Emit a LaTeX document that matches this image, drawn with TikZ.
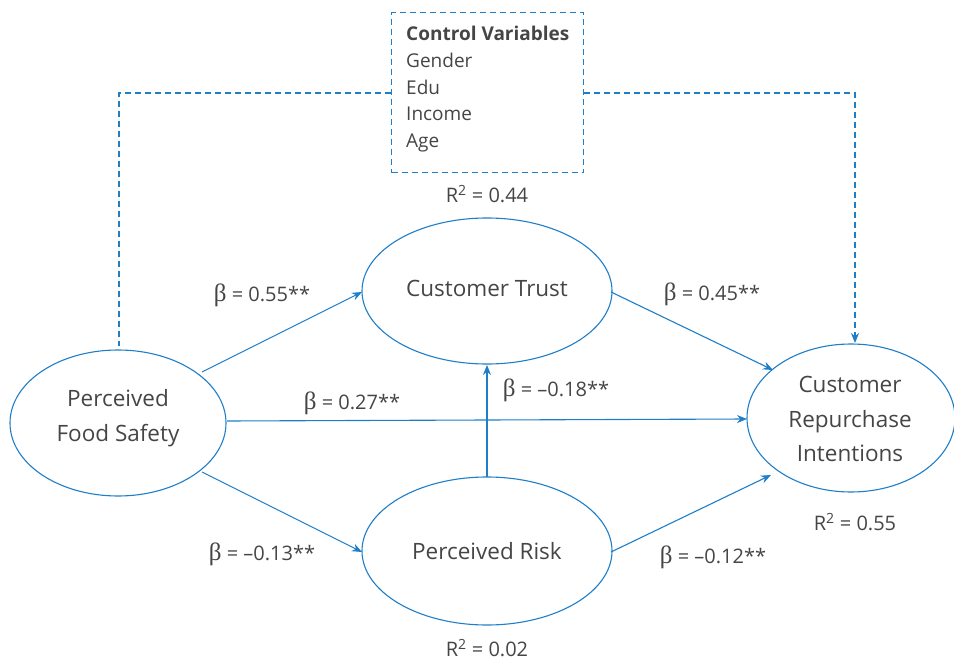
\documentclass[tikz,border=0pt]{standalone}
\usepackage{fontspec}
\setmainfont{Open Sans}
\newfontfamily\betafont{Liberation Serif}
\usetikzlibrary{arrows.meta}
\definecolor{lineblue}{HTML}{1F7EC8}
\definecolor{txt}{HTML}{454545}
\newcommand{\bt}{{\betafont\fontsize{25}{22}\selectfont β}}
\begin{document}
\begin{tikzpicture}[x=1pt,y=-1pt,
  ell/.style={draw=lineblue,line width=1.1pt},
  path/.style={draw=lineblue,line width=1.1pt,-{Stealth[length=10pt,width=8pt]}},
  ctrl/.style={draw=lineblue,line width=1.2pt,dash pattern=on 6pt off 4pt},
  lab/.style={text=txt,font=\fontsize{20}{22}\selectfont,inner sep=0pt}]
\useasboundingbox (0,0) rectangle (954,661);
% ellipses
\draw[ell] (118,423) ellipse [x radius=108,y radius=73];
\node[text=txt,font=\fontsize{22.5}{35}\selectfont,align=center] (pfs) at (118,418) {Perceived\\Food Safety};
\draw[ell] (487,291) ellipse [x radius=125,y radius=73];
\node[text=txt,font=\fontsize{22.5}{30}\selectfont] (ct) at (487,288) {Customer Trust};
\draw[ell] (487,551) ellipse [x radius=125,y radius=74];
\node[text=txt,font=\fontsize{22.5}{30}\selectfont] (pr) at (487,551) {Perceived Risk};
\draw[ell] (851,418) ellipse [x radius=104,y radius=74];
\node[text=txt,font=\fontsize{22.5}{34.5}\selectfont,align=center] (cri) at (850,419) {Customer\\Repurchase\\Intentions};
% anchor coordinates on ellipse boundaries
\coordinate (pfsA) at (202,372);
\coordinate (pfsB) at (227,421);
\coordinate (pfsC) at (202,472);
\coordinate (ctW) at (362,292);
\coordinate (ctE) at (611,292);
\coordinate (ctS) at (487,365);
\coordinate (prW) at (362,552);
\coordinate (prE) at (611,552);
\coordinate (prN) at (487,477);
\coordinate (criA) at (773,370);
\coordinate (criB) at (747,419);
\coordinate (criC) at (771,475);
\draw[path] (pfsA) -- (ctW);
\draw[path] (ctE) -- (criA);
\draw[path] (pfsB) -- (criB);
\draw[path] (pfsC) -- (prW);
\draw[path] (prE) -- (criC);
\draw[path] (prN) -- (ctS);
% control box
\node[ctrl,minimum width=192pt,minimum height=160pt,anchor=north west] (box) at (391,12) {};
\node[text=txt,anchor=north west,align=left,inner sep=0pt,font=\fontsize{19}{26.7}\selectfont] (boxtext) at (406,26)
  {\textbf{Control Variables}\\Gender\\Edu\\Income\\Age};
\coordinate (pfsT) at (119,346);
\coordinate (criT) at (855,343);
\draw[ctrl] (box.west |- 0,93) -- (119,93) -- (pfsT);
\draw[ctrl,-{Stealth[length=10pt,width=8pt]}] (box.east |- 0,93) -- (855,93) -- (criT);
% labels
\node[lab] (l1) at (262,295) {\bt{} = 0.55**};
\node[lab] (l2) at (712,294) {\bt{} = 0.45**};
\node[lab] (l3) at (352,403) {\bt{} = 0.27**};
\node[lab] (l4) at (556,390) {\bt{} = –0.18**};
\node[lab] (l5) at (262,554) {\bt{} = –0.13**};
\node[lab] (l6) at (713,557) {\bt{} = –0.12**};
\node[lab] (r1) at (487,194) {R\textsuperscript{2} = 0.44};
\node[lab] (r2) at (487,648) {R\textsuperscript{2} = 0.02};
\node[lab] (r3) at (855,522) {R\textsuperscript{2} = 0.55};
\end{tikzpicture}
\end{document}
